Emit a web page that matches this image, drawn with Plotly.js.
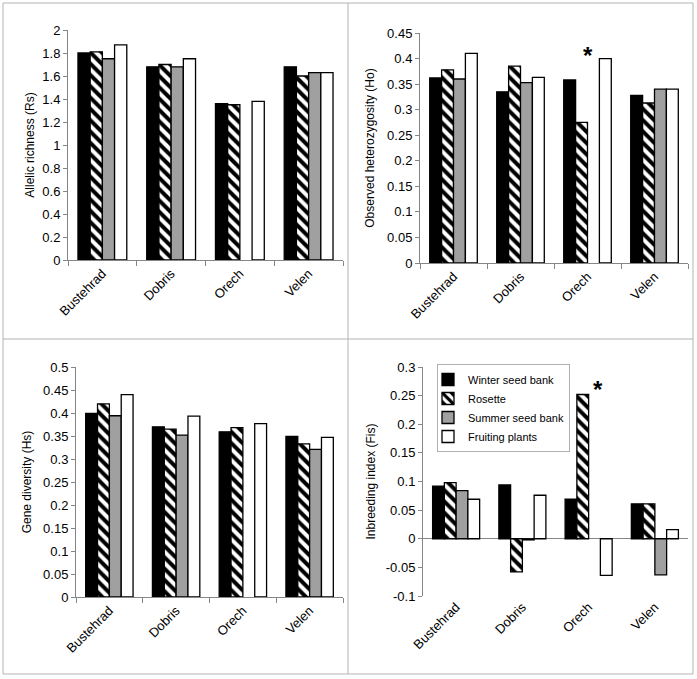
<!DOCTYPE html>
<html>
<head>
<meta charset="utf-8">
<script src="https://cdn.plot.ly/plotly-3.0.1.min.js"></script>
<style>html,body{margin:0;padding:0;background:#fff}#chart{width:697px;height:679px}</style>
</head>
<body>
<div id="chart"></div>
<script>
// ---- data ----
const categories = ["Bustehrad", "Dobris", "Orech", "Velen"];
const seriesNames = ["Winter seed bank", "Rosette", "Summer seed bank", "Fruiting plants"];

// Allelic richness (Rs)
const rsWinter   = [1.80, 1.68, 1.36, 1.68];
const rsRosette  = [1.81, 1.70, 1.35, 1.60];
const rsSummer   = [1.75, 1.68, null, 1.63];
const rsFruiting = [1.87, 1.75, 1.38, 1.63];

// Observed heterozygosity (Ho)
const hoWinter   = [0.362, 0.335, 0.358, 0.328];
const hoRosette  = [0.378, 0.385, 0.275, 0.313];
const hoSummer   = [0.360, 0.353, null, 0.340];
const hoFruiting = [0.410, 0.363, 0.400, 0.340];

// Gene diversity (Hs)
const hsWinter   = [0.399, 0.370, 0.359, 0.349];
const hsRosette  = [0.420, 0.365, 0.368, 0.333];
const hsSummer   = [0.394, 0.352, null, 0.321];
const hsFruiting = [0.440, 0.393, 0.377, 0.347];

// Inbreeding index (Fis)
const fisWinter   = [0.092, 0.094, 0.069, 0.061];
const fisRosette  = [0.098, -0.058, 0.252, 0.061];
const fisSummer   = [0.084, -0.002, null, -0.063];
const fisFruiting = [0.069, 0.076, -0.064, 0.016];

// tick labels
const rsTicks  = [0, 0.2, 0.4, 0.6, 0.8, 1, 1.2, 1.4, 1.6, 1.8, 2];
const hoTicks  = [0, 0.05, 0.1, 0.15, 0.2, 0.25, 0.3, 0.35, 0.4, 0.45];
const hsTicks  = [0, 0.05, 0.1, 0.15, 0.2, 0.25, 0.3, 0.35, 0.4, 0.45, 0.5];
const fisTicks = [-0.1, -0.05, 0, 0.05, 0.1, 0.15, 0.2, 0.25, 0.3];

// significance marks
const starLabel = "*";
const hoStar  = {x: 2, y: 0.417};
const fisStar = {x: 2.14, y: 0.268};

// ---- styling ----
const FONT = "Liberation Sans, Arial, sans-serif";
const AXC = "#868686";
const styles = [
  {color: "#000000"},
  {color: "#ffffff", pattern: {shape: "\\", fgcolor: "#000000", bgcolor: "#ffffff", size: 8, solidity: 0.5}},
  {color: "#a0a0a0"},
  {color: "#ffffff"}
];

const panels = [
  {xa: "x",  ya: "y",  data: [rsWinter, rsRosette, rsSummer, rsFruiting], legend: false},
  {xa: "x2", ya: "y2", data: [hoWinter, hoRosette, hoSummer, hoFruiting], legend: false},
  {xa: "x3", ya: "y3", data: [hsWinter, hsRosette, hsSummer, hsFruiting], legend: false},
  {xa: "x4", ya: "y4", data: [fisWinter, fisRosette, fisSummer, fisFruiting], legend: true}
];

const traces = [];
panels.forEach(p => {
  p.data.forEach((vals, i) => {
    const m = {color: styles[i].color, line: {color: "#000000", width: 1.3}};
    if (styles[i].pattern) m.pattern = styles[i].pattern;
    traces.push({
      type: "bar", x: categories, y: vals, name: seriesNames[i],
      xaxis: p.xa, yaxis: p.ya, marker: m, showlegend: p.legend,
      hoverinfo: "x+y"
    });
  });
});

const W = 697, H = 679;
function dx(a, b) { return [a / W, b / W]; }
function dy(top, bottom) { return [1 - bottom / H, 1 - top / H]; }

function xAxis(domain, anchor, showline) {
  return {
    domain: domain, anchor: anchor, type: "category",
    categoryorder: "array", categoryarray: categories,
    showline: showline, linecolor: AXC, linewidth: 1,
    ticks: showline ? "outside" : "", tickson: "boundaries", ticklen: 5, tickcolor: AXC,
    tickangle: -45, tickfont: {family: FONT, size: 13, color: "#000"},
    showgrid: false, zeroline: false, fixedrange: true
  };
}
function yAxis(domain, anchor, range, ticks, title, standoff, zl) {
  return {
    domain: domain, anchor: anchor, range: range,
    tickvals: ticks, ticktext: ticks.map(v => String(v)),
    showline: true, linecolor: AXC, linewidth: 1,
    ticks: "outside", ticklen: 4, tickcolor: AXC,
    tickfont: {family: FONT, size: 13, color: "#000"},
    showgrid: false, zeroline: !!zl, zerolinecolor: AXC, zerolinewidth: 1,
    title: {text: title, font: {family: FONT, size: 12, color: "#000"}, standoff: standoff},
    fixedrange: true
  };
}

const d1x = dx(68, 343),  d1y = dy(30, 260);
const d2x = dx(420, 688), d2y = dy(33, 263);
const d3x = dx(76, 343),  d3y = dy(367, 597);
const d4x = dx(423, 688), d4y = dy(367, 596);
const fisRange = [-0.1, 0.3];
const zeroPos = d4y[0] + (0 - fisRange[0]) / (fisRange[1] - fisRange[0]) * (d4y[1] - d4y[0]);

const layout = {
  width: W, height: H,
  margin: {l: 0, r: 0, t: 0, b: 0},
  paper_bgcolor: "#fff", plot_bgcolor: "rgba(0,0,0,0)",
  barmode: "group", bargap: 0.29, bargroupgap: 0,
  font: {family: FONT, size: 12, color: "#000"},
  xaxis: xAxis(d1x, "y", true),
  yaxis: yAxis(d1y, "x", [0, 2], rsTicks, "Allelic richness (Rs)", 5),
  xaxis2: xAxis(d2x, "y2", true),
  yaxis2: yAxis(d2y, "x2", [0, 0.45], hoTicks, "Observed heterozygosity (Ho)", 9),
  xaxis3: xAxis(d3x, "y3", true),
  yaxis3: yAxis(d3y, "x3", [0, 0.5], hsTicks, "Gene diversity (Hs)", 8),
  xaxis4: xAxis(d4x, "y4", false),
  yaxis4: yAxis(d4y, "x4", fisRange, fisTicks, "Inbreeding index (Fis)", 7, true),
  xaxis5: Object.assign(xAxis(d4x, "free", true), {
    overlaying: "x4", position: zeroPos, showticklabels: false, range: [-0.5, 3.5]
  }),
  legend: {
    x: 437 / W, y: 1 - 364 / H, xanchor: "left", yanchor: "top",
    bgcolor: "#fff", bordercolor: "#b0b0b0", borderwidth: 1,
    font: {family: FONT, size: 11, color: "#000"},
    traceorder: "normal", itemwidth: 30, tracegroupgap: 0, indentation: -10
  },
  annotations: [
    {xref: "x2", yref: "y2", x: hoStar.x, y: hoStar.y, text: "<b>" + starLabel + "</b>",
     showarrow: false, font: {family: FONT, size: 24, color: "#000"}, yanchor: "middle", yshift: -6},
    {xref: "x4", yref: "y4", x: fisStar.x, y: fisStar.y, text: "<b>" + starLabel + "</b>",
     showarrow: false, font: {family: FONT, size: 24, color: "#000"}, yanchor: "middle", yshift: -4}
  ],
  shapes: [
    {type: "rect", xref: "paper", yref: "paper", x0: 3 / W, x1: 693 / W, y0: 1 - 674 / H, y1: 1 - 3 / H,
     line: {color: "#b4b4b4", width: 1}},
    {type: "line", xref: "paper", yref: "paper", x0: 348 / W, x1: 348 / W, y0: 1 - 674 / H, y1: 1 - 3 / H,
     line: {color: "#b4b4b4", width: 1}},
    {type: "line", xref: "paper", yref: "paper", x0: 3 / W, x1: 693 / W, y0: 1 - 339 / H, y1: 1 - 339 / H,
     line: {color: "#b4b4b4", width: 1}}
  ]
};

Plotly.newPlot("chart", traces, layout, {displayModeBar: false, staticPlot: true});
</script>
</body>
</html>
